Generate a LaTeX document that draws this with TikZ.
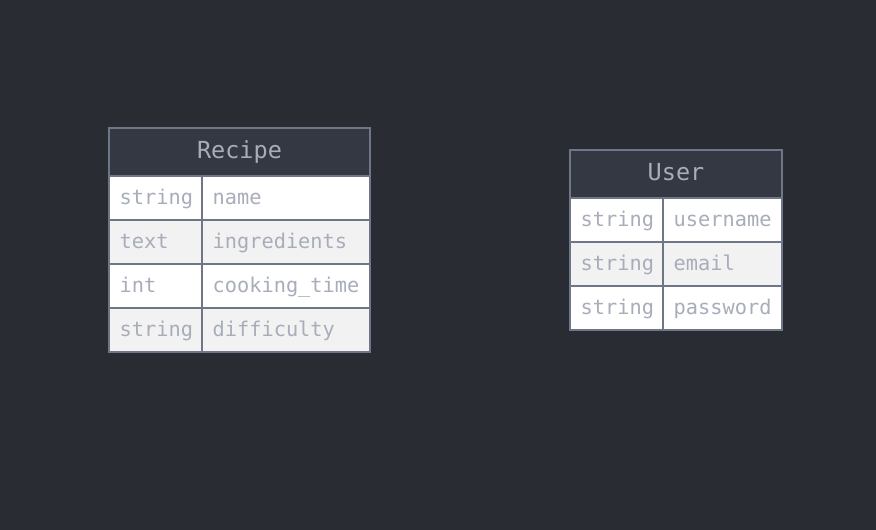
\documentclass[tikz,border=0pt]{standalone}
\usepackage{fontspec}
\usetikzlibrary{calc}
\setmonofont{DejaVu Sans Mono}
\definecolor{bg}{HTML}{2A2C34}
\definecolor{hdr}{HTML}{343842}
\definecolor{bord}{HTML}{6E7687}
\definecolor{txt}{HTML}{A8ADBA}
\definecolor{alt}{HTML}{F2F2F2}
\begin{document}
\begin{tikzpicture}[x=1pt,y=-1pt,
  cellbox/.style={draw=bord, line width=2pt, inner sep=0pt, outer sep=0pt, anchor=north west, minimum height=44pt},
  hdrbox/.style={cellbox, fill=hdr, minimum height=48pt},
  celltext/.style={anchor=base west, inner sep=0pt, text=txt, font=\ttfamily\fontsize{20.3}{24}\selectfont},
  hdrtext/.style={anchor=base, inner sep=0pt, text=txt, font=\ttfamily\fontsize{23.5}{27}\selectfont}]
\fill[bg] (0,0) rectangle (876,530);
\useasboundingbox (0,0) rectangle (876,530);
% Recipe table
\node[hdrbox, minimum width=261pt] (rhead) at (109,128) {};
\node[hdrtext] (rtitle) at (239.5,158) {Recipe};
\foreach \i/\ty/\nm/\fc in {0/string/name/white,1/text/ingredients/alt,2/int/cooking\_time/white,3/string/difficulty/alt}{
  \node[cellbox, fill=\fc, minimum width=93pt] (ra\i) at (109,176+44*\i) {};
  \node[cellbox, fill=\fc, minimum width=168pt] (rb\i) at (202,176+44*\i) {};
  \node[celltext] (rat\i) at ($(ra\i.north west)+(10.5,28)$) {\ty};
  \node[celltext] (rbt\i) at ($(rb\i.north west)+(10.5,28)$) {\nm};
}
% User table
\node[hdrbox, minimum width=212pt] (uhead) at (570,150) {};
\node[hdrtext] (utitle) at (676,180) {User};
\foreach \i/\ty/\nm/\fc in {0/string/username/white,1/string/email/alt,2/string/password/white}{
  \node[cellbox, fill=\fc, minimum width=93pt] (ua\i) at (570,198+44*\i) {};
  \node[cellbox, fill=\fc, minimum width=119pt] (ub\i) at (663,198+44*\i) {};
  \node[celltext] (uat\i) at ($(ua\i.north west)+(10.5,28)$) {\ty};
  \node[celltext] (ubt\i) at ($(ub\i.north west)+(10.5,28)$) {\nm};
}
\end{tikzpicture}
\end{document}
